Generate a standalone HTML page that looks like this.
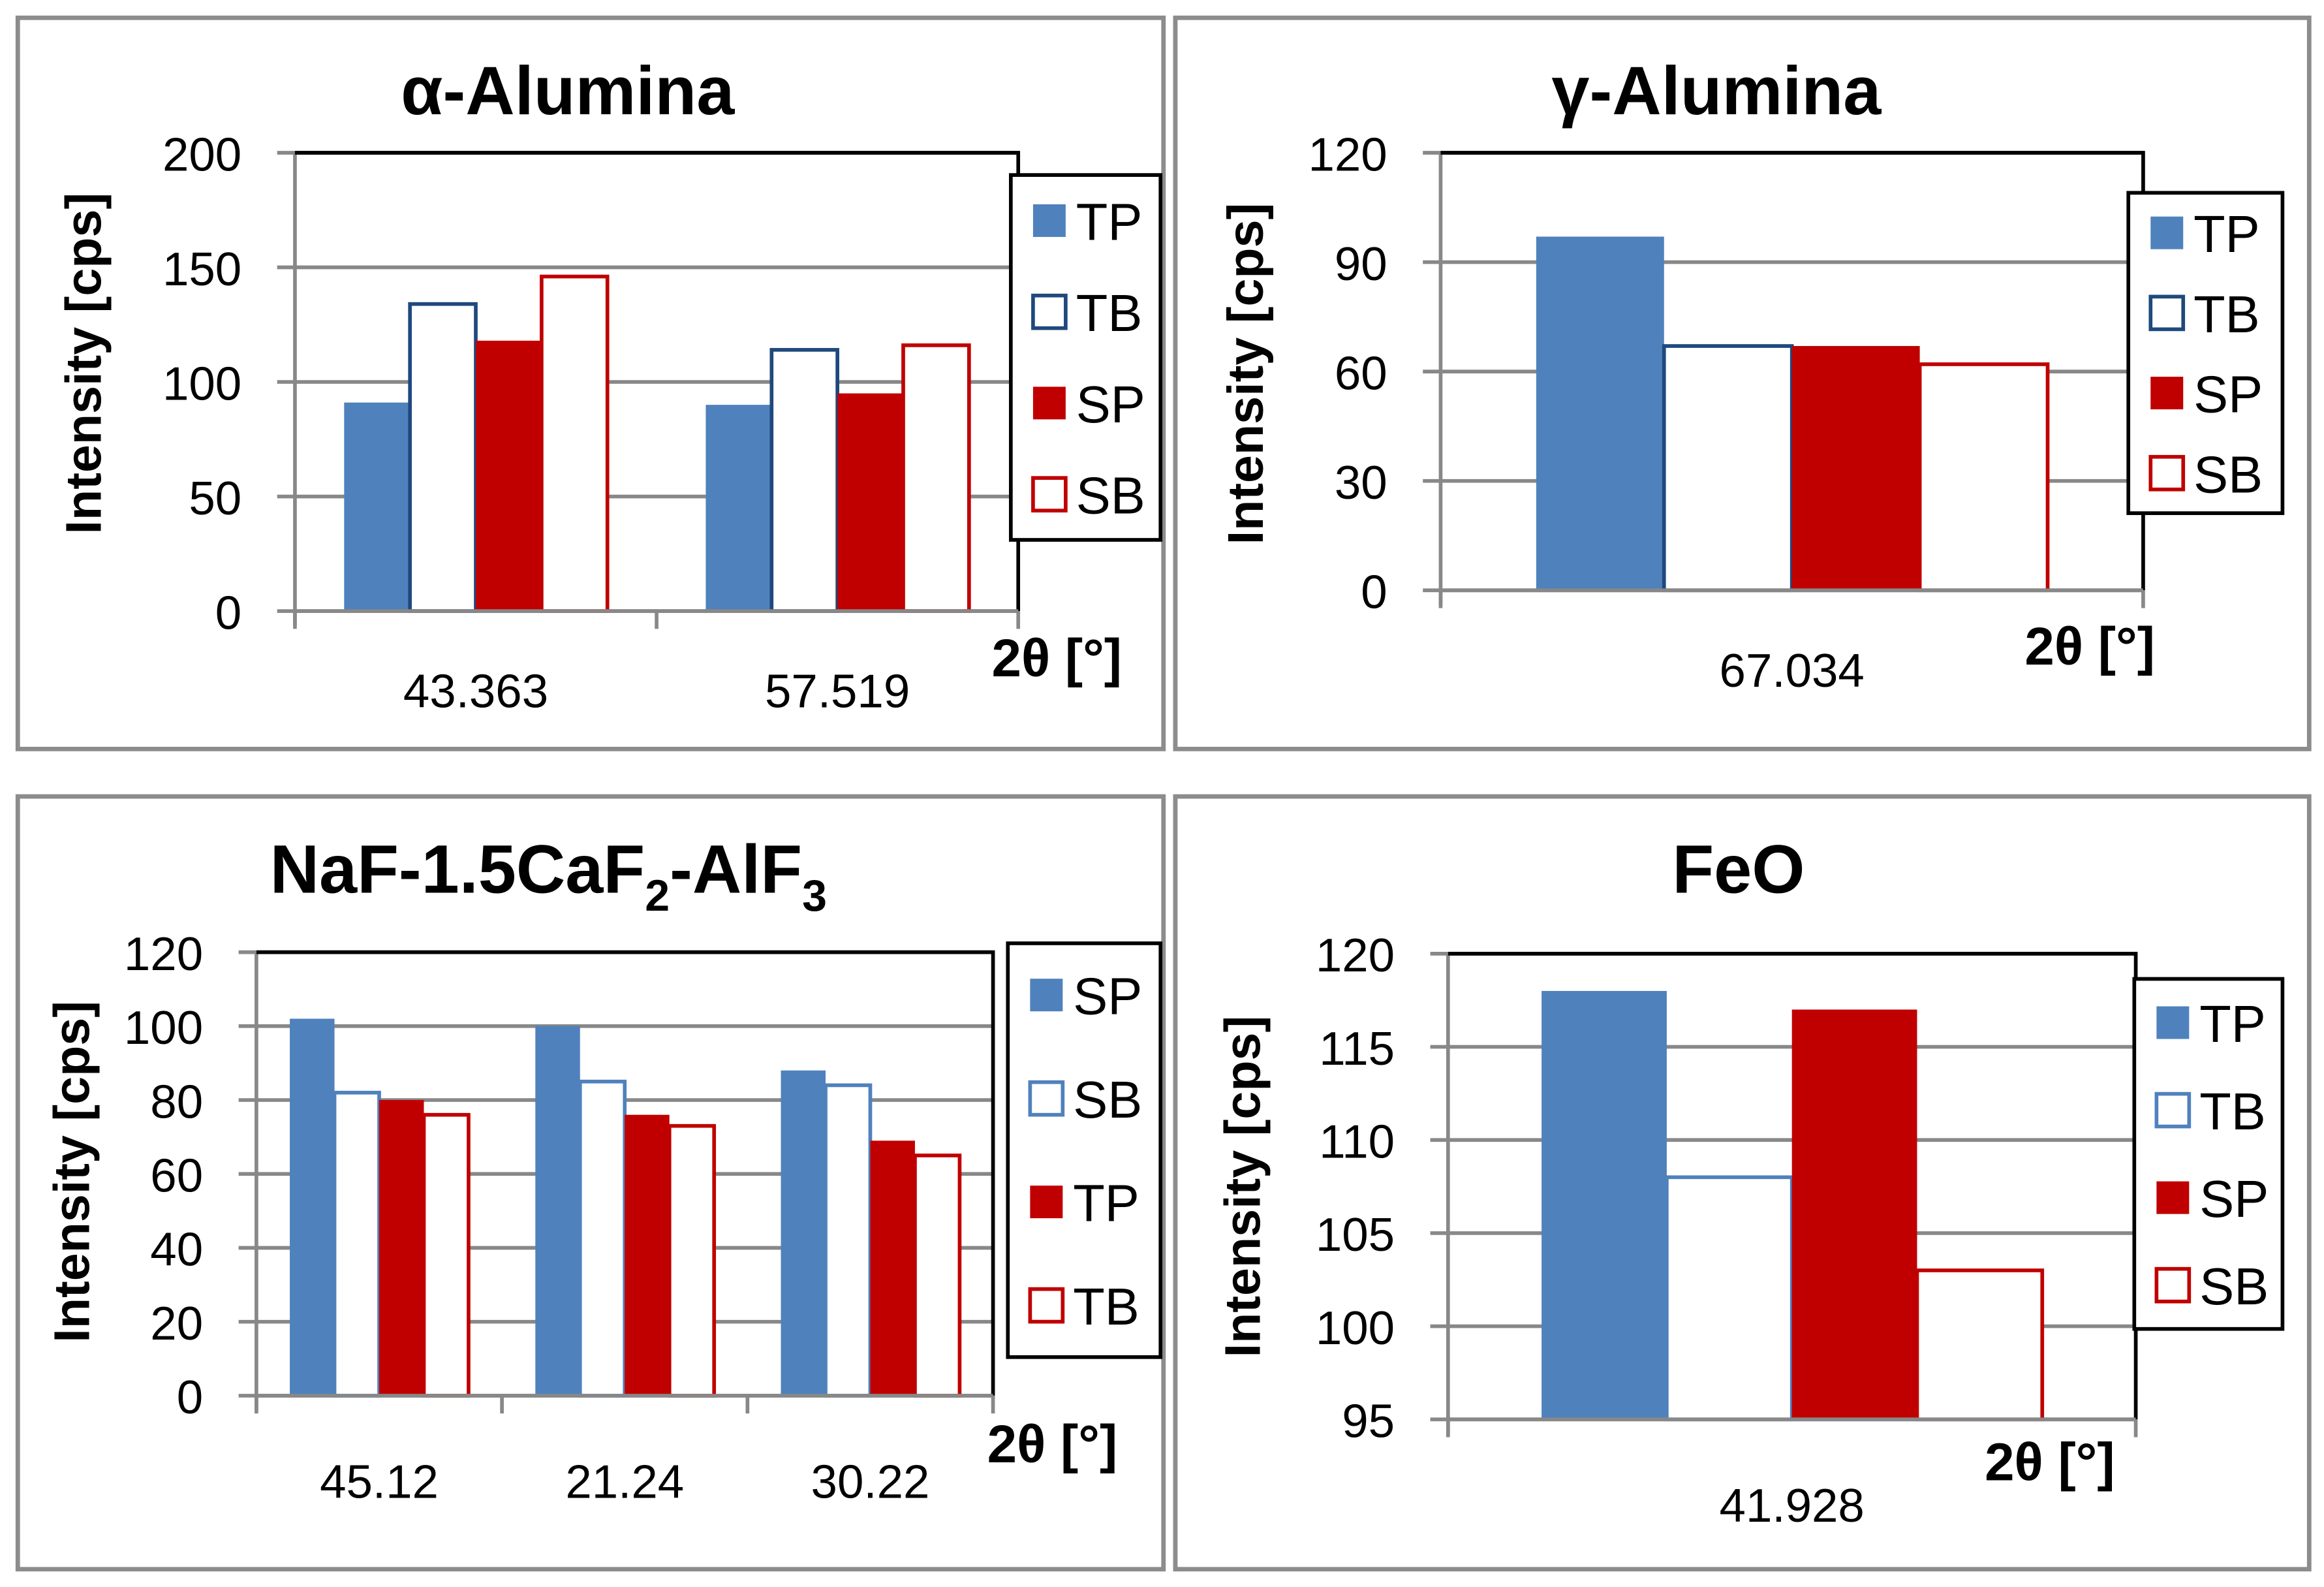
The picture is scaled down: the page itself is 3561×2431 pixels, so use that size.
<!DOCTYPE html>
<html><head><meta charset="utf-8"><style>
html,body{margin:0;padding:0;background:#fff;}
svg{display:block;}
text{font-family:"Liberation Sans",sans-serif;}
</style></head><body>
<svg id="root" width="3561" height="2431" viewBox="0 0 1568 1070" preserveAspectRatio="none" xmlns="http://www.w3.org/2000/svg"></svg>
<script>
// ---- data ----
const aCategories = ["43.363","57.519"];
const aSeries = ["TP","TB","SP","SB"];
const aTP = [91,90], aTB = [134,114], aSP = [118,95], aSB = [146,116];
const aTicks = [0,50,100,150,200];

const gCategories = ["67.034"];
const gSeries = ["TP","TB","SP","SB"];
const gTP = [97], gTB = [67], gSP = [67], gSB = [62];
const gTicks = [0,30,60,90,120];

const nCategories = ["45.12","21.24","30.22"];
const nSeries = ["SP","SB","TP","TB"];
const nSP = [102,100,88], nSB = [82,85,84], nTP = [80,76,69], nTB = [76,73,65];
const nTicks = [0,20,40,60,80,100,120];

const fCategories = ["41.928"];
const fSeries = ["TP","TB","SP","SB"];
const fTP = [118], fTB = [108], fSP = [117], fSB = [103];
const fTicks = [95,100,105,110,115,120];

const NS="http://www.w3.org/2000/svg";
const root=document.getElementById('root');
function el(tag,attrs,parent,txt){const e=document.createElementNS(NS,tag);for(const k in attrs)e.setAttribute(k,attrs[k]);if(txt!==undefined)e.textContent=txt;(parent||root).appendChild(e);return e;}

const BLUE="#4f81bd", RED="#c00000";

function chart(cfg){
  const g=el('g',{});
  
  
  const pb=el('rect',{x:cfg.panel[0],y:cfg.panel[1],width:cfg.panel[2],height:cfg.panel[3],fill:'#fff',stroke:'#8c8c8c','stroke-width':3},g);
  
  const [x0,x1,yTop,yBot]=cfg.plot;
  const tmin=cfg.ticks[0], tmax=cfg.ticks[cfg.ticks.length-1];
  const ys=v=>yBot-(v-tmin)/(tmax-tmin)*(yBot-yTop);
  const n=cfg.categories.length, band=(x1-x0)/n;
  const xs=i=>x0+band*i;
  cfg.ticks.forEach(t=>{
    const l=el('line',{x1:x0-12,x2:x1,y1:ys(t),y2:ys(t),stroke:'#888','stroke-width':2.5},g);
    
    const tx=el('text',{x:x0-36,y:ys(t)+12,'text-anchor':'end','font-size':32},g,String(t));
    
  });
  const series=cfg.series;
  series.forEach((s,si)=>{
    cfg.values[si].forEach((v,ci)=>{
      const bw=band*cfg.barFrac;
      const bx=xs(ci)+band*(1-cfg.barFrac*series.length)/2+si*bw;
      const st=cfg.styles[si];
      const r=el('rect',{x:bx,y:ys(v),width:bw,height:yBot-ys(v),fill:st.fill,stroke:st.stroke,'stroke-width':st.stroke==='none'?0:2.5},g);
      
    });
  });
  const ax=el('line',{x1:x0,x2:x0,y1:yTop,y2:yBot+10,stroke:'#888','stroke-width':2.5},g);
  
  const bt=el('path',{d:`M${x0} ${yTop} L${x1} ${yTop} L${x1} ${yBot}`,fill:'none',stroke:'#000','stroke-width':2.5},g);
  
  const xa=el('line',{x1:x0,x2:x1,y1:yBot,y2:yBot,stroke:'#888','stroke-width':2.5},g);
  
  for(let i=0;i<=n;i++){
    const t=el('line',{x1:xs(i),x2:xs(i),y1:yBot,y2:yBot+12,stroke:'#888','stroke-width':2.5},g);
    
  }
  cfg.categories.forEach((c,i)=>{
    const t=el('text',{x:xs(i)+band/2,y:cfg.catY,'text-anchor':'middle','font-size':32},g,c);
    
  });
  const tt=el('text',{x:cfg.title[0],y:cfg.title[1],'text-anchor':'middle','font-size':46,'font-weight':'bold'},g);
  
  tt.innerHTML=cfg.titleHTML;
  const yt=el('text',{x:0,y:0,'text-anchor':'middle','font-size':34,'font-weight':'bold',transform:`translate(${cfg.ytitle[0]},${cfg.ytitle[1]}) rotate(-90)`},g,'Intensity [cps]');
  
  const xt=el('text',{x:cfg.xtitle[0],y:cfg.xtitle[1],'text-anchor':'middle','font-size':36,'font-weight':'bold'},g,'2θ [°]');
  
  const [lx,ly,lw,lh]=cfg.legend;
  const lb=el('rect',{x:lx,y:ly,width:lw,height:lh,fill:'#fff',stroke:'#000','stroke-width':2.5},g);
  
  const step=lh/series.length;
  series.forEach((s,si)=>{
    const cy=ly+step*(si+0.5);
    const st=cfg.styles[si];
    const sw=el('rect',{x:lx+15,y:cy-11,width:22,height:22,fill:st.fill,stroke:st.stroke,'stroke-width':st.stroke==='none'?0:2.5},g);
    
    const lt=el('text',{x:lx+44,y:cy+13,'font-size':35},g,s);
    
  });
}

const S_TP={fill:BLUE,stroke:'none'}, S_TBd={fill:'#fff',stroke:'#1f497d'}, S_TBl={fill:'#fff',stroke:BLUE};
const S_SP={fill:RED,stroke:'none'}, S_SB={fill:'#fff',stroke:RED};

chart({name:'alpha-alumina-chart',panel:[12,12,773,493],plot:[199,687,103,412],ticks:aTicks,
  categories:aCategories,series:aSeries,values:[aTP,aTB,aSP,aSB],barFrac:0.182,
  styles:[S_TP,S_TBd,S_SP,S_SB],catY:477,title:[383,77],titleHTML:'α-Alumina',
  ytitle:[68,245],xtitle:[713,456],legend:[682,118,101,246]});
chart({name:'gamma-alumina-chart',panel:[793,12,765,493],plot:[972,1446,103,398],ticks:gTicks,
  categories:gCategories,series:gSeries,values:[gTP,gTB,gSP,gSB],barFrac:0.182,
  styles:[S_TP,S_TBd,S_SP,S_SB],catY:463,title:[1158,77],titleHTML:'γ-Alumina',
  ytitle:[852,252],xtitle:[1410,448],legend:[1436,130,104,216]});
chart({name:'naf-caf2-alf3-chart',panel:[12,537,773,521],plot:[173,670,642,941],ticks:nTicks,
  categories:nCategories,series:nSeries,values:[nSP,nSB,nTP,nTB],barFrac:0.182,
  styles:[S_TP,S_TBl,S_SP,S_SB],catY:1010,title:[370,602],
  titleHTML:'NaF-1.5CaF<tspan font-size="30" dy="12">2</tspan><tspan dy="-12">-AlF</tspan><tspan font-size="30" dy="12">3</tspan>',
  ytitle:[60,790],xtitle:[710,986],legend:[680,636,103,279]});
chart({name:'feo-chart',panel:[793,537,765,521],plot:[977,1441,643,957],ticks:fTicks,
  categories:fCategories,series:fSeries,values:[fTP,fTB,fSP,fSB],barFrac:0.182,
  styles:[S_TP,S_TBl,S_SP,S_SB],catY:1026,title:[1173,602],titleHTML:'FeO',
  ytitle:[850,800],xtitle:[1383,998],legend:[1440,660,100,236]});
</script>
</body></html>
